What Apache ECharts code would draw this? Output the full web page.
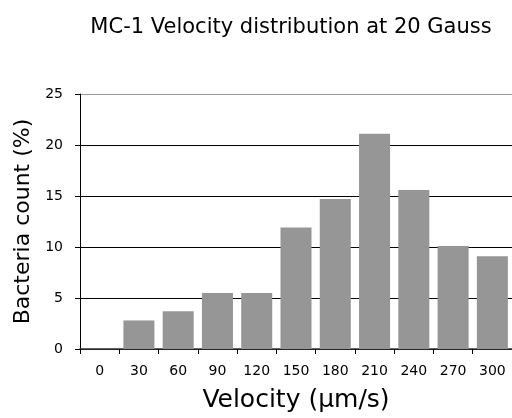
<!DOCTYPE html>
<html>
<head>
<meta charset="utf-8">
<script src="https://cdn.jsdelivr.net/npm/echarts@6/dist/echarts.min.js"></script>
<style>
    html, body { margin: 0; padding: 0; background: #fff; }
    #chart { width: 512px; height: 418px; }
</style>
</head>
<body>
<div id="chart"></div>
<script>
var velocities = ['0', '30', '60', '90', '120', '150', '180', '210', '240', '270', '300'];
var bacteriaCount = [0, 2.8, 3.7, 5.5, 5.5, 11.9, 14.7, 21.1, 15.6, 10.1, 9.1];
var yTicks = { min: 0, max: 25, interval: 5 };

var myChart = echarts.init(document.getElementById('chart'));
var fontName = 'DejaVu Sans';
option = {
    animation: false,
    textStyle: { fontFamily: fontName },
    title: {
        text: 'MC-1 Velocity distribution at 20 Gauss',
        left: 286,
        top: 12,
        textAlign: 'center',
        textStyle: { fontFamily: fontName, fontSize: 21, fontWeight: 'normal', color: '#000' }
    },
    grid: {
        left: 80,
        right: -2,
        top: 94,
        bottom: 67
    },
    xAxis: {
        type: 'category',
        data: velocities,
        name: 'Velocity (\u00b5m/s)',
        nameLocation: 'middle',
        nameGap: 39,
        nameTextStyle: { fontFamily: fontName, fontSize: 25, color: '#000' },
        axisLine: { lineStyle: { color: '#333', width: 1.5 } },
        axisTick: { show: true, length: 5, lineStyle: { color: '#000' } },
        axisLabel: { margin: 15, fontSize: 14, color: '#000', fontFamily: fontName }
    },
    yAxis: {
        type: 'value',
        min: yTicks.min,
        max: yTicks.max,
        interval: yTicks.interval,
        name: 'Bacteria count (%)',
        nameLocation: 'middle',
        nameGap: 42,
        nameTextStyle: { fontFamily: fontName, fontSize: 22, color: '#000' },
        axisLine: { show: true, lineStyle: { color: '#000', width: 1 } },
        axisTick: { show: true, length: 5, lineStyle: { color: '#000' } },
        axisLabel: { margin: 17, fontSize: 14, color: '#000', fontFamily: fontName },
        splitLine: {
            show: true,
            lineStyle: { color: ['#000', '#000', '#000', '#000', '#000', '#999'], width: 1 }
        }
    },
    series: [
        {
            name: 'Bacteria count',
            type: 'bar',
            barCategoryGap: '21%',
            itemStyle: { color: '#969696' },
            data: bacteriaCount
        }
    ]
};
myChart.setOption(option);
</script>
</body>
</html>
